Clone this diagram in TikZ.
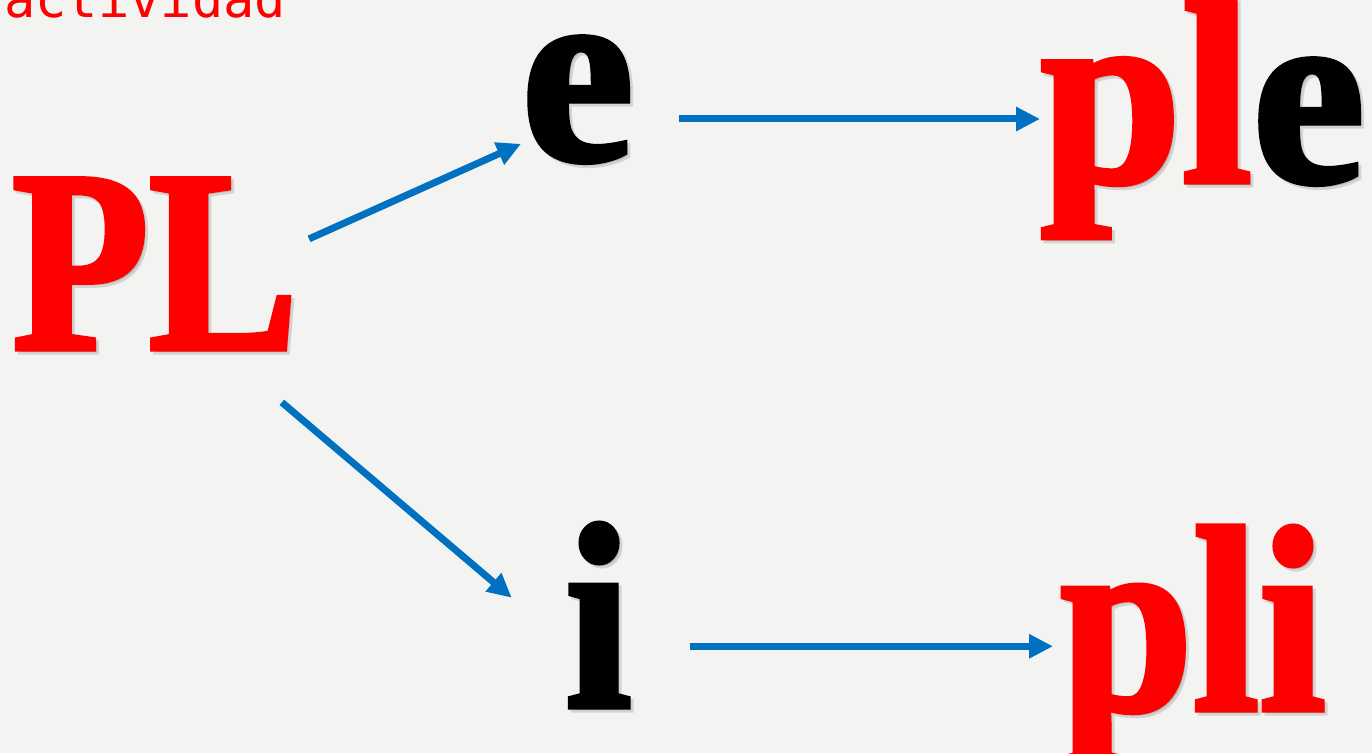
\documentclass[tikz,border=0pt]{standalone}
\usepackage{fontspec}
\usetikzlibrary{arrows.meta}
\newfontfamily\wideserif{Liberation Serif Bold}[FakeBold=2, FakeStretch=0.97]
\newfontfamily\bigserif{Liberation Serif Bold}[FakeBold=2, FakeStretch=0.9]
\newfontfamily\capserif{Liberation Serif Bold}[FakeBold=2, FakeStretch=0.86]
\newfontfamily\monofont{DejaVu Sans Mono}
\definecolor{paper}{HTML}{F3F3F1}
\definecolor{arrowblue}{HTML}{0070C0}
\definecolor{letterred}{HTML}{FF0000}
\begin{document}
\begin{tikzpicture}[x=1pt, y=-1pt,
    letters/.style={inner sep=0pt, anchor=base west},
    capital/.style={font=\capserif\fontsize{260}{260}\selectfont},
    wide/.style={font=\wideserif\fontsize{262}{262}\selectfont},
    small/.style={font=\bigserif\fontsize{265}{265}\selectfont},
    shade/.style={text=black, opacity=0.13},
    link/.style={line width=7pt, arrowblue, -{Triangle[length=24pt, width=23pt]}}]
   \useasboundingbox[fill=paper] (0,0) rectangle (1372,753);
   % title
   \node[letters, text=letterred, font=\monofont\fontsize{52}{52}\selectfont] (title) at (4,17) {actividad};
   % shadows
   \node[letters, shade, capital] (PLs) at (15,352) {PL};
   \node[letters, shade, wide] (es) at (524,163) {e};
   \node[letters, shade, wide] (ples) at (1043,185) {ple};
   \node[letters, shade, small] (is) at (568,710) {i};
   \node[letters, shade, small] (plis) at (1063,713) {pli};
   % letters
   \node[letters, capital, text=letterred] (PL) at (12,349) {PL};
   \node[letters, wide] (e) at (521,160) {e};
   \node[letters, wide] (ple) at (1040,182) {{\color{letterred}pl}e};
   \node[letters, small] (i) at (565,707) {i};
   \node[letters, small, text=letterred] (pli) at (1060,710) {pli};
   % arrows
   \draw[link, shorten <=12pt] (PL.8) to (e.218);
   \draw[link, shorten <=82pt, shorten >=70pt] (PL.-53) to (i.220);
   \draw[link, shorten <=45pt] (e.east |- ple.west) to (ple.west);
   \draw[link, shorten <=58pt, shorten >=7pt] (i.east |- pli.west) to (pli.west);
\end{tikzpicture}
\end{document}
